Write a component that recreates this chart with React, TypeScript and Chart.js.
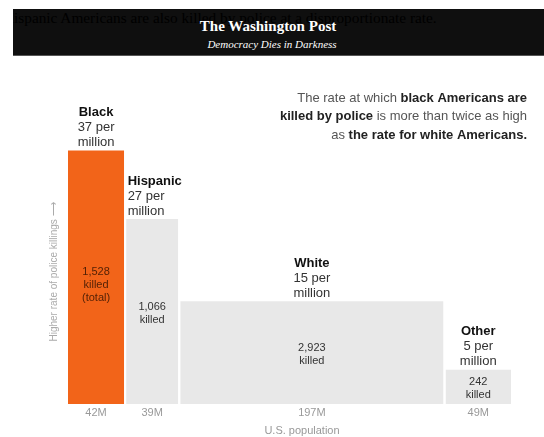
import React, { useEffect, useRef } from "react";
import { Chart, registerables } from "chart.js";

Chart.register(...registerables);

const categories = ["Black", "Hispanic", "White", "Other"];
const populationMillions = [42, 39, 197, 49];
const ratePerMillion = [37, 27, 15, 5];
const killedTotals = [1528, 1066, 2923, 242];
const populationLabels = ["42M", "39M", "197M", "49M"];
const killedExtra = ["(total)", "", "", ""];
const labelAlign = ["center", "left", "center", "center"];
const barColors = ["#f26419", "#e8e8e8", "#e8e8e8", "#e8e8e8"];

const GAP = 1.5;
const FONT = '"Liberation Sans", Arial, sans-serif';

const annotationLines: Array<Array<[string, boolean]>> = [
  [["The rate at which ", false], ["black Americans are", true]],
  [["killed by police", true], [" is more than twice as high", false]],
  [["as ", false], ["the rate for white Americans.", true]],
];

const starts = populationMillions.map(
  (p, i) => populationMillions.slice(0, i).reduce((a, b) => a + b, 0) + i * GAP
);
const totalX =
  populationMillions.reduce((a, b) => a + b, 0) + (populationMillions.length - 1) * GAP;

const labelPlugin = {
  id: "labels",
  afterDraw(chart: any) {
    const ctx = chart.ctx;
    const xs = chart.scales.x;
    const ys = chart.scales.y;
    const y0 = ys.getPixelForValue(0);
    ctx.save();
    ctx.textBaseline = "middle";
    categories.forEach((cat, i) => {
      const xl = xs.getPixelForValue(starts[i]);
      const xr = xs.getPixelForValue(starts[i] + populationMillions[i]);
      const xc = (xl + xr) / 2;
      const top = ys.getPixelForValue(ratePerMillion[i]);
      const align = labelAlign[i];
      const lx = align === "left" ? xl + 1.5 : xc;
      ctx.textAlign = align;
      const lastY = top - 8;
      ctx.font = `bold 13px ${FONT}`;
      ctx.fillStyle = "#111";
      ctx.fillText(cat, lx, lastY - 30);
      ctx.font = `13px ${FONT}`;
      ctx.fillStyle = "#333";
      ctx.fillText(`${ratePerMillion[i]} per`, lx, lastY - 15);
      ctx.fillText("million", lx, lastY);
      const mid = (top + y0) / 2;
      ctx.textAlign = "center";
      ctx.font = `11px ${FONT}`;
      ctx.fillStyle = i === 0 ? "rgba(40,15,0,0.8)" : "#333";
      ctx.fillText(killedTotals[i].toLocaleString("en-US"), xc, mid - 5);
      ctx.fillText("killed", xc, mid + 8);
      if (killedExtra[i]) ctx.fillText(killedExtra[i], xc, mid + 21);
      ctx.fillStyle = "#999";
      ctx.fillText(populationLabels[i], xc, y0 + 9);
    });
    ctx.font = `11px ${FONT}`;
    ctx.fillStyle = "#999";
    ctx.textAlign = "center";
    ctx.fillText("U.S. population", 302, 431);
    ctx.save();
    ctx.translate(54, 272);
    ctx.rotate(-Math.PI / 2);
    ctx.font = `10px ${FONT}`;
    ctx.fillStyle = "#aaa";
    ctx.fillText("Higher rate of police killings \u27F6", 0, 0);
    ctx.restore();
    const right = 527;
    annotationLines.forEach((line, li) => {
      let x = right;
      const y = 98 + li * 18.5;
      ctx.textAlign = "right";
      for (let k = line.length - 1; k >= 0; k--) {
        const [t, b] = line[k];
        ctx.font = `${b ? "bold " : ""}13px ${FONT}`;
        ctx.fillStyle = b ? "#222" : "#555";
        ctx.fillText(t, x, y);
        x -= ctx.measureText(t).width;
      }
    });
    ctx.restore();
  },
};

export default function App() {
  const ref = useRef<HTMLCanvasElement>(null);
  useEffect(() => {
    if (!ref.current) return;
    const datasets = categories.map((cat, i) => {
      const x0 = starts[i];
      const x1 = starts[i] + populationMillions[i];
      const h = ratePerMillion[i];
      return {
        label: cat,
        data: [
          { x: x0, y: 0 },
          { x: x0, y: h },
          { x: x1, y: h },
          { x: x1, y: 0 },
        ],
        fill: "origin",
        backgroundColor: barColors[i],
        borderColor: "transparent",
        borderWidth: 0,
        pointRadius: 0,
        tension: 0,
      };
    });
    const chart = new Chart(ref.current, {
      type: "line",
      data: { datasets } as any,
      options: {
        animation: false,
        responsive: false,
        events: [],
        layout: { padding: { left: 68, right: 33, top: 130, bottom: 33 } },
        plugins: { legend: { display: false }, tooltip: { enabled: false } },
        scales: {
          x: { type: "linear", min: 0, max: totalX, display: false },
          y: { type: "linear", min: 0, max: 40, display: false },
        },
      },
      plugins: [labelPlugin],
    });
    return () => chart.destroy();
  }, []);

  return (
    <div>
      <canvas
        ref={ref}
        width={544}
        height={437}
        style={{ position: "absolute", left: 0, top: 0, width: 544, height: 437 }}
      />
      <div
        style={{
          position: "absolute",
          left: 13,
          top: 9,
          width: 531,
          height: 46,
          background: "#0f0f0f",
          borderBottom: "1px solid #555",
          overflow: "hidden",
        }}
      >
        <div
          style={{
            position: "absolute",
            left: -10,
            top: 0,
            whiteSpace: "nowrap",
            fontFamily: '"Liberation Serif", serif',
            fontSize: 15.3,
            color: "#000",
          }}
        >
          Hispanic Americans are also killed by police at a disproportionate rate.
        </div>
        <div
          style={{
            position: "absolute",
            left: 129,
            width: 252,
            top: 8,
            textAlign: "center",
            fontFamily: '"Liberation Serif", serif',
            fontWeight: "bold",
            fontSize: 15,
            color: "#fff",
            lineHeight: "18px",
          }}
        >
          The Washington Post
        </div>
        <div
          style={{
            position: "absolute",
            left: 133,
            width: 252,
            top: 29,
            textAlign: "center",
            fontFamily: '"Liberation Serif", serif',
            fontStyle: "italic",
            fontSize: 11,
            color: "#fff",
            lineHeight: "13px",
          }}
        >
          Democracy Dies in Darkness
        </div>
      </div>
    </div>
  );
}
